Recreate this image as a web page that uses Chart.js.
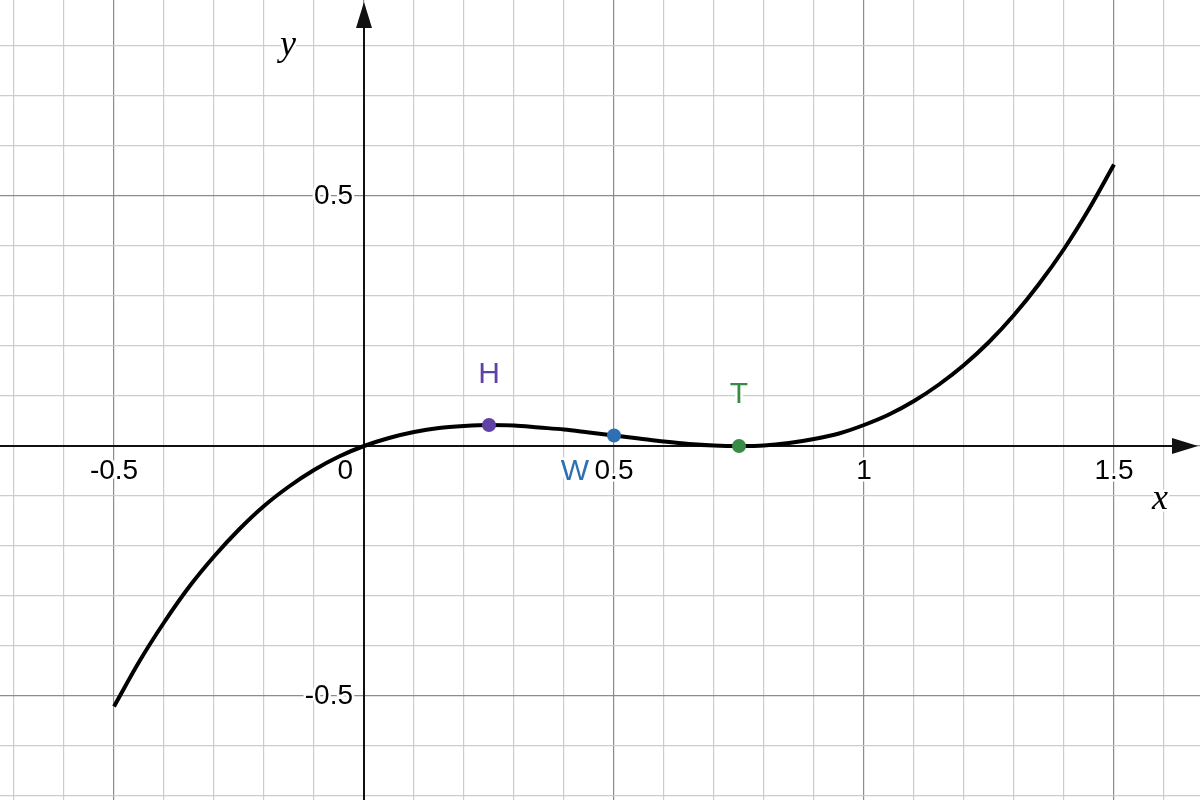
<!DOCTYPE html>
<html>
<head>
<meta charset="utf-8">
<script src="https://cdn.jsdelivr.net/npm/chart.js@4.4.1/dist/chart.umd.min.js"></script>
<style>
html,body{margin:0;padding:0;background:#fff;}
#wrap{width:1200px;height:800px;}
</style>
</head>
<body>
<div id="wrap"><canvas id="c" width="1200" height="800"></canvas></div>
<script>
// ---- data ----
const curveX = [-0.5,-0.45,-0.4,-0.35,-0.3,-0.25,-0.2,-0.15,-0.1,-0.05,0,0.05,0.1,0.15,0.2,0.25,0.3,0.35,0.4,0.45,0.5,0.55,0.6,0.65,0.7,0.75,0.8,0.85,0.9,0.95,1.0,1.05,1.1,1.15,1.2,1.25,1.3,1.35,1.4,1.45,1.5];
const curveY = [-0.521,-0.432,-0.353,-0.282,-0.221,-0.167,-0.120,-0.081,-0.048,-0.021,0,0.016,0.028,0.036,0.040,0.042,0.041,0.037,0.033,0.027,0.021,0.015,0.009,0.004,0.001,0,0.001,0.006,0.014,0.025,0.042,0.063,0.090,0.123,0.162,0.208,0.262,0.324,0.394,0.474,0.563];
const pointNames = ['H','W','T'];
const pointX = [0.25, 0.5, 0.75];
const pointY = [0.042, 0.021, 0];
const xTickValues = [-0.5, 0.5, 1, 1.5];
const xTickLabels = ['-0.5', '0.5', '1', '1.5'];
const yTickValues = [0.5, -0.5];
const yTickLabels = ['0.5', '-0.5'];
const originLabel = '0';

// ---- styles ----
const pointColors = ['#6042a6', '#2d70b3', '#388c46'];
const labelOffsets = [[0, -50], [-39, 36], [0, -51]];
const X_MIN = -0.728, X_MAX = 1.672, Y_MIN = -0.708, Y_MAX = 0.892;

function gridTicks(min, max) {
  const out = [];
  for (let i = Math.ceil(min * 10); i <= Math.floor(max * 10); i++) out.push({value: i / 10});
  return out;
}
function gridColor(ctx) {
  const v = ctx.tick ? ctx.tick.value : 0;
  const r = Math.round(v * 10);
  return (r % 5 === 0) ? '#8c8c8c' : '#cccccc';
}

const datasets = [{
  label: 'f',
  data: curveX.map((x, i) => ({x: x, y: curveY[i]})),
  borderColor: '#000',
  borderWidth: 4,
  pointRadius: 0,
  showLine: true,
  cubicInterpolationMode: 'monotone',
  fill: false,
  order: 2
}];
pointNames.forEach((n, i) => {
  datasets.push({
    label: n,
    data: [{x: pointX[i], y: pointY[i]}],
    backgroundColor: pointColors[i],
    borderColor: pointColors[i],
    pointRadius: 7,
    pointBorderWidth: 0,
    showLine: false,
    order: 1
  });
});

function haloText(ctx, text, x, y, font, color, align, baseline) {
  ctx.save();
  ctx.font = font;
  ctx.textAlign = align;
  ctx.textBaseline = baseline;
  ctx.lineWidth = 5;
  ctx.lineJoin = 'round';
  ctx.strokeStyle = '#fff';
  ctx.strokeText(text, x, y);
  ctx.fillStyle = color;
  ctx.fillText(text, x, y);
  ctx.restore();
}

const axesPlugin = {
  id: 'axesPlugin',
  beforeDatasetsDraw(chart) {
    const ctx = chart.ctx;
    const xs = chart.scales.x, ys = chart.scales.y;
    const x0 = xs.getPixelForValue(0), y0 = ys.getPixelForValue(0);
    const L = chart.chartArea;
    ctx.save();
    ctx.strokeStyle = '#111';
    ctx.fillStyle = '#111';
    ctx.lineWidth = 2;
    // x axis
    ctx.beginPath(); ctx.moveTo(L.left, y0); ctx.lineTo(L.right - 20, y0); ctx.stroke();
    ctx.beginPath(); ctx.moveTo(L.right - 2, y0); ctx.lineTo(L.right - 28, y0 - 8); ctx.lineTo(L.right - 28, y0 + 8); ctx.closePath(); ctx.fill();
    // y axis
    ctx.beginPath(); ctx.moveTo(x0, L.bottom); ctx.lineTo(x0, L.top + 20); ctx.stroke();
    ctx.beginPath(); ctx.moveTo(x0, L.top + 2); ctx.lineTo(x0 - 8, L.top + 28); ctx.lineTo(x0 + 8, L.top + 28); ctx.closePath(); ctx.fill();
    ctx.restore();
    // tick labels
    const f = '28px "Liberation Sans", Arial, sans-serif';
    xTickValues.forEach((v, i) => {
      haloText(ctx, xTickLabels[i], xs.getPixelForValue(v), y0 + 25, f, '#000', 'center', 'middle');
    });
    yTickValues.forEach((v, i) => {
      haloText(ctx, yTickLabels[i], x0 - 11, ys.getPixelForValue(v), f, '#000', 'right', 'middle');
    });
    haloText(ctx, originLabel, x0 - 11, y0 + 25, f, '#000', 'right', 'middle');
    // axis titles
    const tf = 'italic 36px "Liberation Serif", "Times New Roman", serif';
    haloText(ctx, 'x', L.right - 40, y0 + 63, tf, '#000', 'center', 'alphabetic');
    haloText(ctx, 'y', x0 - 76, L.top + 55, tf, '#000', 'center', 'alphabetic');
  },
  afterDatasetsDraw(chart) {
    const ctx = chart.ctx;
    const xs = chart.scales.x, ys = chart.scales.y;
    const f = '30px "Liberation Sans", Arial, sans-serif';
    pointNames.forEach((n, i) => {
      const px = xs.getPixelForValue(pointX[i]) + labelOffsets[i][0];
      const py = ys.getPixelForValue(pointY[i]) + labelOffsets[i][1];
      haloText(ctx, n, px, py, f, pointColors[i], 'center', 'middle');
    });
  }
};

new Chart(document.getElementById('c'), {
  type: 'scatter',
  data: {datasets: datasets},
  options: {
    responsive: false,
    animation: false,
    devicePixelRatio: 1,
    layout: {padding: 0, autoPadding: false},
    plugins: {legend: {display: false}, tooltip: {enabled: false}},
    scales: {
      x: {
        type: 'linear', min: X_MIN, max: X_MAX,
        afterBuildTicks: (s) => { s.ticks = gridTicks(X_MIN, X_MAX); },
        ticks: {display: false},
        grid: {color: gridColor, lineWidth: 1.2, drawTicks: false},
        border: {display: false}
      },
      y: {
        type: 'linear', min: Y_MIN, max: Y_MAX,
        afterBuildTicks: (s) => { s.ticks = gridTicks(Y_MIN, Y_MAX); },
        ticks: {display: false},
        grid: {color: gridColor, lineWidth: 1.2, drawTicks: false},
        border: {display: false}
      }
    }
  },
  plugins: [axesPlugin]
});
</script>
</body>
</html>
